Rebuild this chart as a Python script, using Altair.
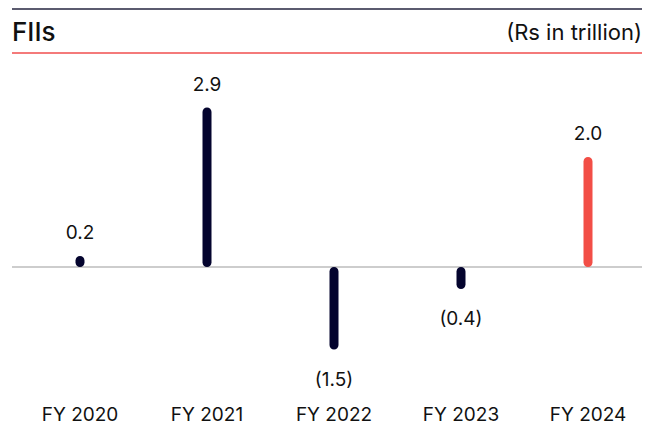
import altair as alt
import pandas as pd

years = ["FY 2020", "FY 2021", "FY 2022", "FY 2023", "FY 2024"]
values = [0.2, 2.9, -1.5, -0.4, 2.0]
title_text = "FIIs"
unit_text = "(Rs in trillion)"

NAVY = "#04042e"
RED = "#f24e46"
FONT = "Inter"

df = pd.DataFrame({"year": years, "value": values})
df["label"] = [f"{v:.1f}" if v >= 0 else f"({abs(v):.1f})" for v in values]

W, H = 644, 419
zero_px = 259
k = 55.0
y_scale = alt.Scale(domain=[-(H - zero_px) / k, zero_px / k], nice=False, zero=False)
x_scale = alt.Scale(type="point", domain=years, range=[72, 580], padding=0)

base = alt.Chart(df)

x_enc = alt.X("year:N", scale=x_scale, axis=None, sort=years)

bars = base.mark_bar(width=9, cornerRadius=4.5).encode(
    x=x_enc,
    y=alt.Y("value:Q", scale=y_scale, axis=None),
    y2=alt.datum(0),
    color=alt.condition(alt.datum.year == "FY 2024", alt.value(RED), alt.value(NAVY)),
)

pos_labels = base.transform_filter(alt.datum.value >= 0).mark_text(
    font=FONT, fontSize=19, dy=-23, baseline="middle", color="#111111"
).encode(x=x_enc, y=alt.Y("value:Q", scale=y_scale, axis=None), text="label:N")

neg_labels = base.transform_filter(alt.datum.value < 0).mark_text(
    font=FONT, fontSize=19, dy=30, baseline="middle", color="#111111"
).encode(x=x_enc, y=alt.Y("value:Q", scale=y_scale, axis=None), text="label:N")

x_labels = base.mark_text(
    font=FONT, fontSize=19, baseline="alphabetic", color="#111111"
).encode(x=x_enc, y=alt.value(413), text="year:N")

zero_line = alt.Chart(pd.DataFrame({"z": [0]})).mark_rule(
    color="#bdbdbd", strokeWidth=1.5
).encode(y=alt.Y("z:Q", scale=y_scale, axis=None), x=alt.value(4), x2=alt.value(634))

top_line = alt.Chart(pd.DataFrame({"a": [0]})).mark_rule(
    color="#25253f", strokeWidth=1.5
).encode(y=alt.value(1), x=alt.value(4), x2=alt.value(634))

red_line = alt.Chart(pd.DataFrame({"a": [0]})).mark_rule(
    color="#f04e4e", strokeWidth=1.5
).encode(y=alt.value(45), x=alt.value(4), x2=alt.value(634))

title = alt.Chart(pd.DataFrame({"t": [title_text]})).mark_text(
    font=FONT, fontSize=26, fontWeight=500, align="left", baseline="alphabetic", color="#111111"
).encode(x=alt.value(4), y=alt.value(33), text="t:N")

unit = alt.Chart(pd.DataFrame({"t": [unit_text]})).mark_text(
    font=FONT, fontSize=22, align="right", baseline="alphabetic", color="#111111"
).encode(x=alt.value(634), y=alt.value(32), text="t:N")

chart = alt.layer(
    top_line, red_line, title, unit, zero_line, bars, pos_labels, neg_labels, x_labels
).properties(
    width=W, height=H, autosize=alt.AutoSizeParams(type="none"), padding=0
).configure_view(stroke=None)

chart.save("out.html", embed_options={"renderer": "svg", "actions": False})
